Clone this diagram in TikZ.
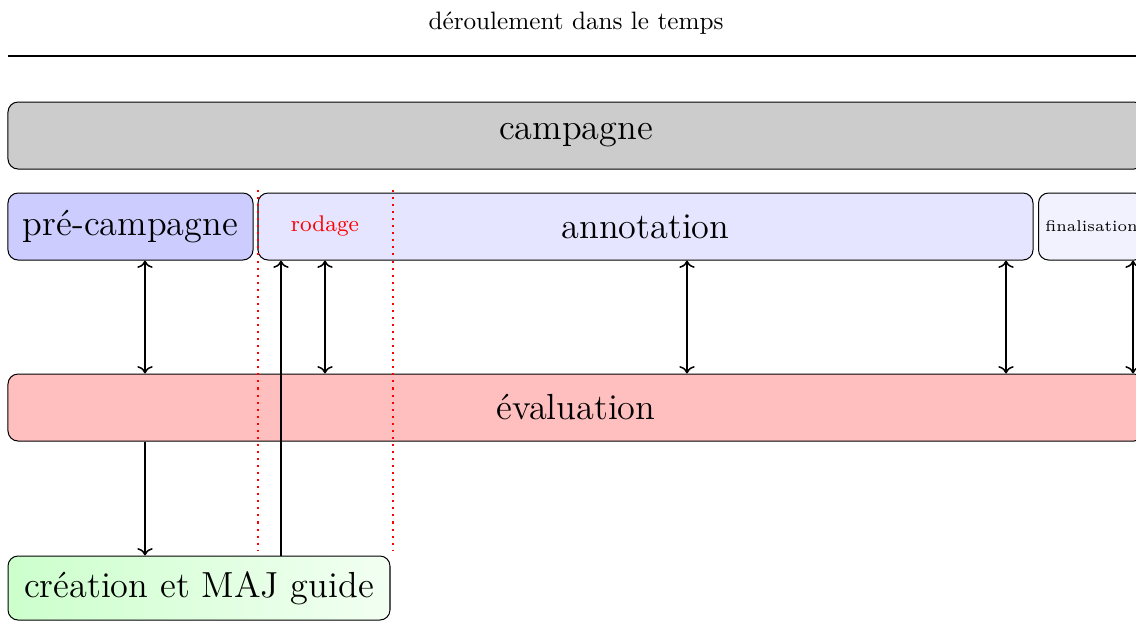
\documentclass[tikz,border=0pt]{standalone}
\usetikzlibrary{arrows.meta}
\begin{document}
\begin{tikzpicture}[x=0.397pt,y=-0.397pt,
  box/.style={draw=black, rounded corners=4pt, inner sep=0pt, minimum height=26.6pt, font=\Large, align=center},
  link/.style={semithick,<->},
  onelink/.style={semithick,->},
  sep/.style={red, thick, dotted}]
\useasboundingbox (0,0) rectangle (1136,621);
% title and time line
\node (titre) at (576,23) {déroulement dans le temps};
\coordinate (t0) at (8,56);
\coordinate (t1) at (1144.5,56);
\draw[thick,->] (t0) -- (t1);
% boxes
\node[box, fill=gray!40, minimum width=451pt] (camp) at (576,135.5) {campagne};
\node[box, fill=blue!20, minimum width=97.27pt] (pre) at (130.5,226.5) {pré-campagne};
\node[box, fill=blue!10, minimum width=307.68pt] (anno) at (645.5,226.5) {annotation};
\node[box, fill=blue!5, minimum width=42.08pt, font=\fontsize{6.2}{7.5}\selectfont] (fin) at (1091.5,226.5) {finalisation};
\node[box, fill=red!25, minimum width=451pt] (eval) at (576,407.5) {évaluation};
\node[box, left color=green!20, right color=green!5, minimum width=151.65pt, minimum height=25.41pt] (guide) at (199,588) {création et MAJ guide};
\node[red, font=\small] (rod) at (325,226) {rodage};
% separators of the rodage phase
\coordinate (s1a) at (258,190);
\coordinate (s1b) at (258,550);
\coordinate (s2a) at (393,190);
\coordinate (s2b) at (393,550);
\draw[sep] (s1a) -- (s1b);
\draw[sep] (s2a) -- (s2b);
% arrow abscissas
\coordinate (xa) at (145,0);
\coordinate (xb) at (325,0);
\coordinate (xc) at (687,0);
\coordinate (xd) at (1006,0);
\coordinate (xe) at (1133,0);
\coordinate (xf) at (281,0);
\draw[link] (pre.south -| xa) -- (eval.north -| xa);
\draw[link] (anno.south -| xb) -- (eval.north -| xb);
\draw[link] (anno.south -| xc) -- (eval.north -| xc);
\draw[link] (anno.south -| xd) -- (eval.north -| xd);
\draw[link] (fin.south -| xe) -- (eval.north -| xe);
\draw[onelink] (eval.south -| xa) -- (guide.north -| xa);
\draw[onelink] (guide.north -| xf) -- (anno.south -| xf);
\end{tikzpicture}
\end{document}
